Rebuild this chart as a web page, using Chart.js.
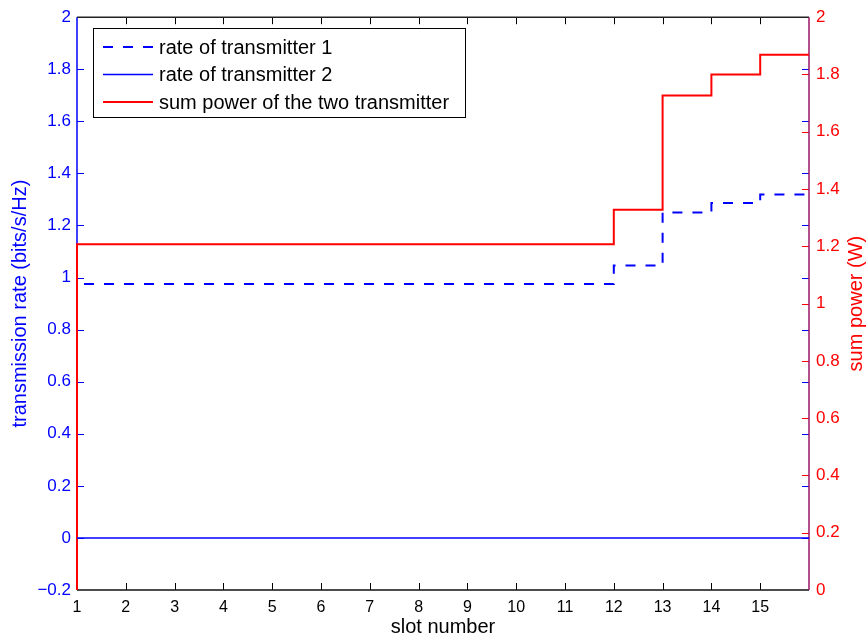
<!DOCTYPE html>
<html>
<head>
<meta charset="utf-8">
<script src="https://cdn.jsdelivr.net/npm/chart.js@4/dist/chart.umd.min.js"></script>
<style>
  body { margin: 0; background: #fff; }
  canvas { display: block; }
</style>
</head>
<body>
<canvas id="slotChart" width="867" height="640"></canvas>
<script>
// slot data (stairs, value held from slot i to slot i+1)
const slots = [1, 2, 3, 4, 5, 6, 7, 8, 9, 10, 11, 12, 13, 14, 15];
const rate1 = [0.975, 0.975, 0.975, 0.975, 0.975, 0.975, 0.975, 0.975, 0.975, 0.975, 0.975, 1.046, 1.25, 1.286, 1.319];
const rate2 = [0, 0, 0, 0, 0, 0, 0, 0, 0, 0, 0, 0, 0, 0, 0];
const sumPower = [1.207, 1.207, 1.207, 1.207, 1.207, 1.207, 1.207, 1.207, 1.207, 1.207, 1.207, 1.328, 1.727, 1.8, 1.869];
const powerBefore = 0; // power before slot 1

// tick labels
const slotTicks = [1, 2, 3, 4, 5, 6, 7, 8, 9, 10, 11, 12, 13, 14, 15];
const rateTicks = [-0.2, 0, 0.2, 0.4, 0.6, 0.8, 1, 1.2, 1.4, 1.6, 1.8, 2];
const powerTicks = [0, 0.2, 0.4, 0.6, 0.8, 1, 1.2, 1.4, 1.6, 1.8, 2];

const BLUE = "#0000ff";
const RED = "#ff0000";

Chart.defaults.font.family = "'Liberation Sans', Arial, Helvetica, sans-serif";

// turn slot values into stair points, with an end point so the last slot gets drawn
function stairs(values, before) {
    let pts = slots.map((s, i) => ({ x: s, y: values[i] }));
    pts.push({ x: slots[slots.length - 1] + 1, y: values[values.length - 1] });
    if (before !== undefined) pts.unshift({ x: slots[0], y: before });
    return pts;
}

function fmt(v) {
    let s = String(Math.abs(+Number(v).toFixed(1)));
    return v < -1e-9 ? "\u2212" + s : s;
}

function setTicks(list) {
    return function (scale) {
        scale.ticks = list.map(v => ({ value: v }));
    };
}

// matlab style box: spines + inward tick marks
const frame = {
    id: "frame",
    beforeDatasetsDraw(chart) {
        let { ctx, chartArea: a, scales } = chart;
        let tl = 7;
        ctx.save();
        ctx.lineWidth = 1;

        function seg(x1, y1, x2, y2, color) {
            ctx.strokeStyle = color;
            ctx.beginPath();
            ctx.moveTo(x1, y1);
            ctx.lineTo(x2, y2);
            ctx.stroke();
        }

        // x ticks top & bottom
        slotTicks.forEach(v => {
            let x = Math.round(scales.x.getPixelForValue(v)) + 0.5;
            if (v === 1) return;
            seg(x, a.bottom, x, a.bottom - tl, "#000");
            seg(x, a.top, x, a.top + tl, "#000");
        });
        // left axis ticks on both sides
        rateTicks.forEach(v => {
            let y = Math.round(scales.y.getPixelForValue(v)) + 0.5;
            if (v === -0.2 || v === 2) return;
            seg(a.left, y, a.left + tl, y, BLUE);
            seg(a.right - tl, y, a.right, y, BLUE);
        });
        // right axis ticks
        powerTicks.forEach(v => {
            let y = Math.round(scales.y1.getPixelForValue(v)) + 0.5;
            if (v === 0 || v === 2) return;
            seg(a.right - tl, y, a.right, y, RED);
        });

        ctx.lineWidth = 1.5;
        seg(a.left, a.top, a.right, a.top, "#222");
        seg(a.left, a.bottom, a.right, a.bottom, "#111");
        seg(a.left, a.top, a.left, a.bottom, BLUE);
        seg(a.right, a.top, a.right, a.bottom, "#9a1466");
        ctx.restore();
    },
    afterDraw(chart) {
        let { ctx, chartArea: a } = chart;
        ctx.save();

        // right axis title, reads bottom to top
        ctx.fillStyle = RED;
        ctx.font = "20px " + Chart.defaults.font.family;
        ctx.textAlign = "center";
        ctx.textBaseline = "middle";
        ctx.translate(856, (a.top + a.bottom) / 2);
        ctx.rotate(-Math.PI / 2);
        ctx.fillText("sum power (W)", 0, 0);
        ctx.restore();

        // legend box
        ctx.save();
        let bx = 93.5, by = 28.5, bw = 372, bh = 89;
        ctx.fillStyle = "#fff";
        ctx.fillRect(bx, by, bw, bh);
        ctx.strokeStyle = "#000";
        ctx.lineWidth = 1;
        ctx.strokeRect(bx, by, bw, bh);
        ctx.font = "20px " + Chart.defaults.font.family;
        ctx.textBaseline = "middle";
        ctx.textAlign = "left";
        chart.data.datasets.forEach((ds, i) => {
            let y = 47 + i * 27.5;
            ctx.strokeStyle = ds.borderColor;
            ctx.lineWidth = ds.borderWidth;
            ctx.setLineDash(ds.borderDash || []);
            ctx.lineDashOffset = 0;
            ctx.beginPath();
            ctx.moveTo(103, y);
            ctx.lineTo(153, y);
            ctx.stroke();
            ctx.setLineDash([]);
            ctx.fillStyle = "#000";
            ctx.fillText(ds.label, 159, y + 1);
        });
        ctx.restore();
    }
};

let ctx = document.getElementById("slotChart").getContext("2d");
new Chart(ctx, {
    type: "line",
    data: {
        datasets: [{
            label: "rate of transmitter 1",
            data: stairs(rate1),
            yAxisID: "y",
            borderColor: BLUE,
            borderWidth: 2,
            borderDash: [10, 10],
            borderDashOffset: 13,
            stepped: true,
            pointRadius: 0,
            clip: 2,
            fill: false
        }, {
            label: "rate of transmitter 2",
            data: stairs(rate2),
            yAxisID: "y",
            borderColor: BLUE,
            borderWidth: 1.5,
            stepped: true,
            pointRadius: 0,
            clip: 2,
            fill: false
        }, {
            label: "sum power of the two transmitter",
            data: stairs(sumPower, powerBefore),
            yAxisID: "y1",
            borderColor: RED,
            borderWidth: 2,
            stepped: true,
            pointRadius: 0,
            clip: 2,
            fill: false
        }]
    },
    options: {
        responsive: false,
        animation: false,
        layout: { padding: { top: 14, left: 0, right: 0, bottom: 0 } },
        plugins: {
            legend: { display: false },
            tooltip: { enabled: false }
        },
        scales: {
            x: {
                type: "linear",
                min: 1,
                max: 16,
                afterBuildTicks: setTicks(slotTicks),
                afterFit: s => { s.height = 50; },
                grid: { display: false, drawTicks: false },
                border: { display: false },
                ticks: { color: "#000", font: { size: 16 }, padding: 8, maxRotation: 0, autoSkip: false },
                title: { display: true, text: "slot number", color: "#000", font: { size: 20 }, padding: { top: 0, bottom: 1 } }
            },
            y: {
                position: "left",
                min: -0.2,
                max: 2,
                afterBuildTicks: setTicks(rateTicks),
                afterFit: s => { s.width = 77; },
                grid: { display: false, drawTicks: false },
                border: { display: false },
                ticks: { color: BLUE, font: { size: 17 }, padding: 6, callback: fmt },
                title: { display: true, text: "transmission rate (bits/s/Hz)", color: BLUE, font: { size: 20 }, padding: { top: 8, bottom: 0 } }
            },
            y1: {
                position: "right",
                min: 0,
                max: 2,
                afterBuildTicks: setTicks(powerTicks),
                afterFit: s => { s.width = 58; },
                grid: { display: false, drawTicks: false },
                border: { display: false },
                ticks: { color: RED, font: { size: 17 }, padding: 7, callback: fmt }
            }
        }
    },
    plugins: [frame]
});
</script>
</body>
</html>
